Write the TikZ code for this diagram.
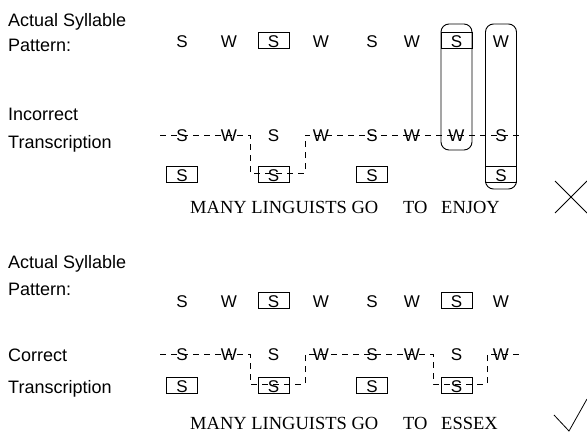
\documentclass[tikz,border=0pt]{standalone}
\usepackage{fontspec}
\setmainfont{Liberation Serif}
\setsansfont{Liberation Sans}
\begin{document}
\begin{tikzpicture}[x=1pt,y=-1pt,
  lab/.style={font=\fontsize{18}{20}\selectfont\sffamily, anchor=base west, inner sep=0},
  syl/.style={font=\fontsize{17}{20}\selectfont\sffamily, anchor=base, inner sep=0},
  word/.style={font=\fontsize{18.5}{20}\selectfont\rmfamily, anchor=base west, inner sep=0, text depth=0pt},
  sbox/.style={draw, line width=0.8pt, minimum width=31pt, minimum height=16pt, inner sep=0},
  tierline/.style={dash pattern=on 6pt off 5pt, line width=0.8pt},
  group/.style={draw, rounded corners=8pt, line width=0.9pt, minimum width=31pt, inner sep=0},
  verdict/.style={line width=0.8pt}]
\useasboundingbox (0,0) rectangle (587,434);

% column positions
\def\ca{182}\def\cb{229}\def\cc{273.5}\def\cd{321}
\def\ce{372}\def\cf{412}\def\cg{456.5}\def\ch{501}

% ---------------- upper panel ----------------
\node[lab] (l1) at (8,26) {Actual Syllable};
\node[lab] (l2) at (8,51) {Pattern:};
\node[lab] (l3) at (8,120) {Incorrect};
\node[lab] (l4) at (8,148) {Transcription};

% stress pattern
\node[sbox] (pb1) at (\cc,40) {};
\node[sbox] (pb2) at (\cg,40) {};
\node[syl] (p1) at (\ca,47.5) {S};
\node[syl] (p2) at (\cb,47.5) {W};
\node[syl] (p3) at (\cc,47.5) {S};
\node[syl] (p4) at (\cd,47.5) {W};
\node[syl] (p5) at (\ce,47.5) {S};
\node[syl] (p6) at (\cf,47.5) {W};
\node[syl] (p7) at (\cg,47.5) {S};
\node[syl] (p8) at (\ch,47.5) {W};

% mismatch groups
\node[group, minimum height=126pt] (g1) at (\cg,87) {};
\node[group, minimum height=165pt] (g2) at (\ch,106.5) {};

% transcription tier
\coordinate (ta0) at (160,135);
\coordinate (ta1) at (250,135);
\coordinate (ta2) at (250,173);
\coordinate (ta3) at (305,173);
\coordinate (ta4) at (305,135);
\coordinate (ta5) at (523,135);
\draw[tierline] (ta0) -- (ta1) -- (ta2) -- (ta3) -- (ta4) -- (ta5);

\node[syl] (t1) at (\ca,141) {S};
\node[syl] (t2) at (\cb,141) {W};
\node[syl] (t3) at (\cc,141) {S};
\node[syl] (t4) at (\cd,141) {W};
\node[syl] (t5) at (\ce,141) {S};
\node[syl] (t6) at (\cf,141) {W};
\node[syl] (t7) at (\cg,141) {W};
\node[syl] (t8) at (\ch,141) {S};

\node[sbox] (ub1) at (\ca,174) {};
\node[sbox] (ub3) at (\cc,174) {};
\node[sbox] (ub5) at (\ce,174) {};
\node[sbox] (ub8) at (\ch,174) {};
\node[syl] (u1) at (\ca,181.5) {S};
\node[syl] (u3) at (\cc,181.5) {S};
\node[syl] (u5) at (\ce,181.5) {S};
\node[syl] (u8) at (\ch,181.5) {S};

\node[word] (w1) at (190,213) {MANY LINGUISTS GO};
\node[word] (w2) at (403,213) {TO};
\node[word] (w3) at (441,213) {ENJOY};

% cross
\coordinate (xa) at (555,181);
\coordinate (xb) at (587,213);
\coordinate (xc) at (555,213);
\coordinate (xd) at (587,181);
\draw[verdict] (xa) -- (xb) (xc) -- (xd);

% ---------------- lower panel ----------------
\node[lab] (k1) at (8,268) {Actual Syllable};
\node[lab] (k2) at (8,295) {Pattern:};
\node[lab] (k3) at (8,361) {Correct};
\node[lab] (k4) at (8,393) {Transcription};

\node[sbox] (qb1) at (\cc,300) {};
\node[sbox] (qb2) at (\cg,300) {};
\node[syl] (q1) at (\ca,307.5) {S};
\node[syl] (q2) at (\cb,307.5) {W};
\node[syl] (q3) at (\cc,307.5) {S};
\node[syl] (q4) at (\cd,307.5) {W};
\node[syl] (q5) at (\ce,307.5) {S};
\node[syl] (q6) at (\cf,307.5) {W};
\node[syl] (q7) at (\cg,307.5) {S};
\node[syl] (q8) at (\ch,307.5) {W};

\coordinate (sa0) at (160,354);
\coordinate (sa1) at (250,354);
\coordinate (sa2) at (250,384);
\coordinate (sa3) at (305,384);
\coordinate (sa4) at (305,354);
\coordinate (sa5) at (433,354);
\coordinate (sa6) at (433,384);
\coordinate (sa7) at (487,384);
\coordinate (sa8) at (487,354);
\coordinate (sa9) at (523,354);
\draw[tierline] (sa0) -- (sa1) -- (sa2) -- (sa3) -- (sa4) -- (sa5) -- (sa6) -- (sa7) -- (sa8) -- (sa9);

\node[syl] (s1) at (\ca,360) {S};
\node[syl] (s2) at (\cb,360) {W};
\node[syl] (s3) at (\cc,360) {S};
\node[syl] (s4) at (\cd,360) {W};
\node[syl] (s5) at (\ce,360) {S};
\node[syl] (s6) at (\cf,360) {W};
\node[syl] (s7) at (\cg,360) {S};
\node[syl] (s8) at (\ch,360) {W};

\node[sbox] (vb1) at (\ca,385) {};
\node[sbox] (vb3) at (\cc,385) {};
\node[sbox] (vb5) at (\ce,385) {};
\node[sbox] (vb7) at (\cg,385) {};
\node[syl] (v1) at (\ca,392.5) {S};
\node[syl] (v3) at (\cc,392.5) {S};
\node[syl] (v5) at (\ce,392.5) {S};
\node[syl] (v7) at (\cg,392.5) {S};

\node[word] (y1) at (190,429.5) {MANY LINGUISTS GO};
\node[word] (y2) at (403,429.5) {TO};
\node[word] (y3) at (441,429.5) {ESSEX};

% tick
\coordinate (ka) at (554,415);
\coordinate (kb) at (569,431);
\coordinate (kc) at (587,399);
\draw[verdict] (ka) -- (kb) -- (kc);
\end{tikzpicture}
\end{document}
